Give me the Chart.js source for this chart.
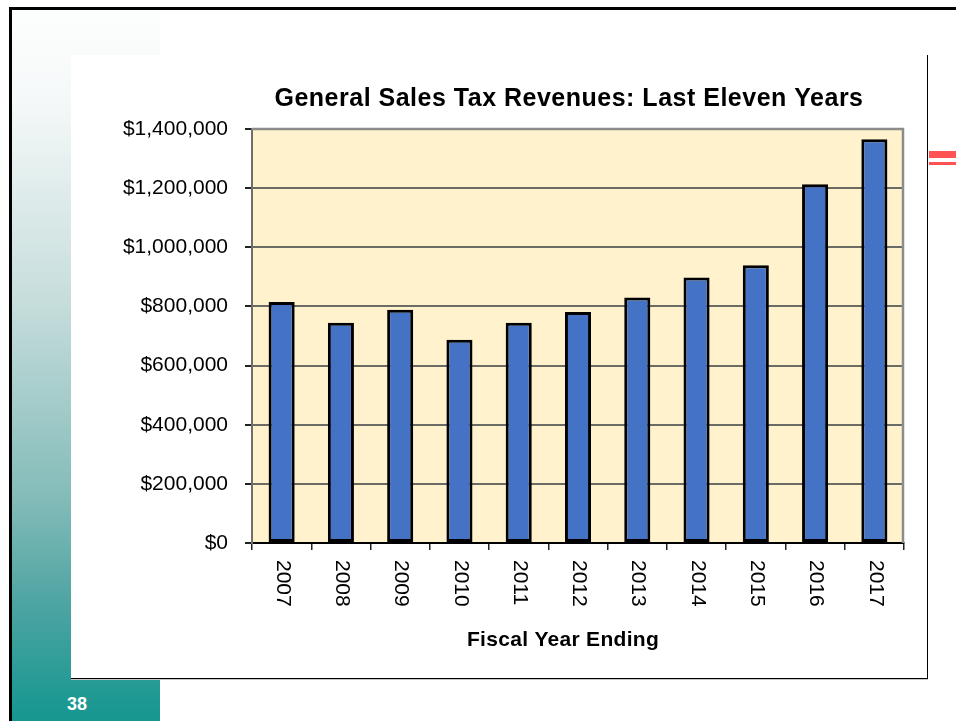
<!DOCTYPE html>
<html>
<head>
<meta charset="utf-8">
<title>General Sales Tax Revenues</title>
<script src="https://cdn.jsdelivr.net/npm/chart.js@4.4.1/dist/chart.umd.min.js"></script>
<style>
  html, body { margin: 0; padding: 0; background: #fff; }
  body { width: 956px; height: 721px; position: relative; overflow: hidden; font-family: "Liberation Sans", Arial, sans-serif; }
  .edge-top { position: absolute; left: 9px; top: 7px; right: 0; height: 3px; background: #000; }
  .edge-left { position: absolute; left: 9px; top: 7px; width: 3px; bottom: 0; background: #000; }
  .strip {
    position: absolute; left: 12px; top: 10px; width: 148px; bottom: 0;
    background: linear-gradient(to bottom, #fdfefe 0%, #f6f9f9 12%, #c6dddc 41%, #82bbb8 69%, #4fa5a3 83%, #14968f 100%);
  }
  .panel {
    position: absolute; left: 71px; top: 55px; width: 856px; height: 623px; background: #fff;
    border-right: 1px solid #000; border-bottom: 1px solid #000; box-shadow: 0 1px 0 #c8c8c8;
  }
  .accent { position: absolute; left: 929px; width: 27px; background: #ff5353; }
  .page-no { position: absolute; left: 67px; top: 694px; font: bold 18px/20px "Liberation Sans", Arial, sans-serif; color: #fff; }
  .chart-box { position: absolute; left: 71px; top: 55px; width: 856px; height: 623px; }
</style>
</head>
<body>
<div class="strip"></div>
<div class="edge-top"></div>
<div class="edge-left"></div>
<div class="panel"></div>
<div class="accent" style="top:151px;height:7px"></div>
<div class="accent" style="top:162px;height:3px"></div>
<div class="page-no">38</div>
<div class="chart-box"><canvas id="chart"></canvas></div>

<script>
const years = ['2007', '2008', '2009', '2010', '2011', '2012', '2013', '2014', '2015', '2016', '2017'];
const revenues = [815000, 745000, 789000, 687000, 745000, 781000, 830000, 898000, 939000, 1213000, 1365000];
const yTickValues = [0, 200000, 400000, 600000, 800000, 1000000, 1200000, 1400000];

const chartTitle = 'General Sales Tax Revenues: Last Eleven Years';
const xTitle = 'Fiscal Year Ending';

const FONT = '"Liberation Sans", Arial, sans-serif';

// plot background, frame, rotated year labels and the two titles
const decor = {
  id: 'decor',
  beforeDraw(chart) {
    const { ctx, chartArea: a } = chart;
    ctx.save();
    ctx.fillStyle = '#fff2cc';
    ctx.fillRect(a.left, a.top, a.right - a.left, a.bottom - a.top);
    ctx.restore();
  },
  afterDraw(chart) {
    const { ctx, chartArea: a } = chart;
    const xs = chart.scales.x;
    ctx.save();
    ctx.strokeStyle = '#8c8c8c';
    ctx.lineWidth = 2.5;
    ctx.beginPath();
    ctx.moveTo(a.left, a.top);
    ctx.lineTo(a.right - 1, a.top);
    ctx.lineTo(a.right - 1, a.bottom);
    ctx.stroke();

    // year labels read top to bottom
    ctx.fillStyle = '#000';
    ctx.font = '21px ' + FONT;
    ctx.textAlign = 'left';
    ctx.textBaseline = 'middle';
    chart.data.labels.forEach((lab, i) => {
      ctx.save();
      ctx.translate(xs.getPixelForValue(i) + 1, xs.top + 17);
      ctx.rotate(Math.PI / 2);
      ctx.fillText(lab, 0, 0);
      ctx.restore();
    });

    ctx.textAlign = 'center';
    ctx.font = 'bold 25px ' + FONT;
    ctx.letterSpacing = '0.5px';
    ctx.fillText(chartTitle, 498, 44);
    ctx.font = 'bold 21px ' + FONT;
    ctx.letterSpacing = '0.3px';
    ctx.fillText(xTitle, 492, 585);
    ctx.restore();
  }
};

new Chart(document.getElementById('chart'), {
  type: 'bar',
  data: {
    labels: years,
    datasets: [{
      label: 'Revenues',
      data: revenues,
      backgroundColor: '#4472c4',
      borderColor: '#000',
      borderWidth: 3,
      borderSkipped: false,
      barPercentage: 0.44,
      categoryPercentage: 1
    }]
  },
  options: {
    responsive: true,
    maintainAspectRatio: false,
    devicePixelRatio: 1,
    animation: false,
    layout: { padding: { top: 74, right: 23, left: 0, bottom: 0 } },
    plugins: {
      legend: { display: false },
      tooltip: { enabled: false },
      title: { display: false }
    },
    scales: {
      x: {
        offset: true,
        afterFit: s => { s.height = 135; },
        ticks: { display: false },
        grid: { offset: true, drawOnChartArea: false, drawTicks: true, tickLength: 7, color: '#222', lineWidth: 1.5 },
        border: { display: true, color: '#000', width: 2 }
      },
      y: {
        min: 0,
        max: 1400000,
        afterBuildTicks: s => { s.ticks = yTickValues.map(v => ({ value: v })); },
        afterFit: s => { s.width = 181; },
        ticks: {
          callback: v => '$' + v.toLocaleString('en-US'),
          font: { family: FONT, size: 21 },
          color: '#000',
          padding: 17
        },
        grid: { color: '#6b6b66', lineWidth: 2, tickLength: 7, tickColor: '#222' },
        border: { display: true, color: '#6e6e6e', width: 2 }
      }
    }
  },
  plugins: [decor]
});
</script>
</body>
</html>
